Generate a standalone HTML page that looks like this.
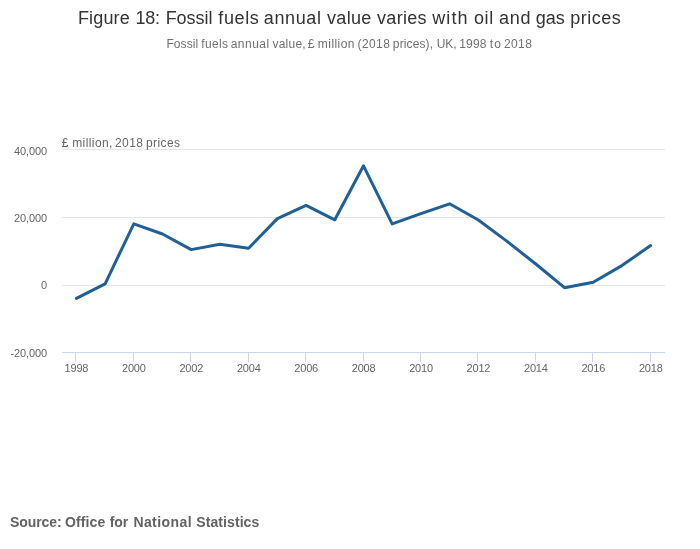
<!DOCTYPE html>
<html lang="en">
<head>
<meta charset="utf-8">
<title>Figure 18: Fossil fuels annual value varies with oil and gas prices</title>
<style>
  html, body { margin: 0; padding: 0; background: #ffffff; }
  body { width: 700px; height: 549px; position: relative; overflow: hidden;
         font-family: "Liberation Sans", sans-serif; }
  .t { position: absolute; white-space: nowrap; line-height: 1; }
  .ln { position: absolute; left: 0; width: 700px; height: 1em; line-height: 1; white-space: nowrap; }
  .ln span { position: absolute; top: 0; }
  .title { font-size: 18px; color: #333333; }
  .subtitle { font-size: 12px; color: #707070; }
  .ylabel { font-size: 12px; color: #666666; }
  .source { font-size: 14px; font-weight: bold; color: #636363; }
  .yl { right: 652.9px; font-size: 11px; color: #666666; text-align: right; letter-spacing: -0.1px; }
  .xl { width: 60px; margin-left: -30px; text-align: center; top: 363px; font-size: 11px; color: #666666; letter-spacing: -0.2px; }
  svg { position: absolute; left: 0; top: 0; }
</style>
</head>
<body>
<svg width="700" height="549" viewBox="0 0 700 549">
  <g stroke="#e6e6e6" stroke-width="1" fill="none">
    <path d="M62 149.5H665"/>
    <path d="M62 217.5H665"/>
    <path d="M62 285.5H665"/>
  </g>
  <g stroke="#ccd6eb" stroke-width="1" fill="none">
    <path d="M62 352.5H665"/>
    <path d="M75.5 352.5V362M133.5 352.5V362M190.5 352.5V362M248.5 352.5V362M305.5 352.5V362M363.5 352.5V362M420.5 352.5V362M477.5 352.5V362M535.5 352.5V362M592.5 352.5V362M650.5 352.5V362"/>
  </g>
  <path fill="none" stroke="#206095" stroke-width="3" stroke-linejoin="round" stroke-linecap="round"
    d="M76.4 298.3L105.1 283.8L133.8 223.8L162.5 234.0L191.2 249.6L219.9 244.2L248.6 248.2L277.4 218.6L306.1 205.4L334.8 219.8L363.5 165.8L392.2 223.9L420.9 213.6L449.6 203.8L478.4 220.0L507.1 241.4L535.8 264.0L564.5 287.7L593.2 282.3L621.9 265.6L650.6 245.6"/>
</svg>
<div class="ln title" id="title" style="top:9px"><span style="left:77.97px;letter-spacing:0.145px">Figure</span> <span style="left:135.54px;letter-spacing:-0.295px">18:</span> <span style="left:165.70px;letter-spacing:-0.063px">Fossil</span> <span style="left:218.26px;letter-spacing:0.631px">fuels</span> <span style="left:263.72px;letter-spacing:0.646px">annual</span> <span style="left:326.99px;letter-spacing:0.326px">value</span> <span style="left:376.99px;letter-spacing:0.321px">varies</span> <span style="left:432.17px;letter-spacing:1.119px">with</span> <span style="left:473.89px;letter-spacing:0.698px">oil</span> <span style="left:499.00px;letter-spacing:0.781px">and</span> <span style="left:535.75px;letter-spacing:0.012px">gas</span> <span style="left:570.37px;letter-spacing:0.484px">prices</span></div>
<div class="ln subtitle" id="subtitle" style="top:38px"><span style="left:166.43px;letter-spacing:0.078px">Fossil</span> <span style="left:201.28px;letter-spacing:0.336px">fuels</span> <span style="left:230.74px;letter-spacing:0.463px">annual</span> <span style="left:272.38px;letter-spacing:0.262px">value,</span> <span style="left:307.79px;letter-spacing:0.000px">£</span> <span style="left:317.84px;letter-spacing:0.445px">million</span> <span style="left:357.58px;letter-spacing:0.397px">(2018</span> <span style="left:392.86px;letter-spacing:0.110px">prices),</span> <span style="left:436.76px;letter-spacing:-0.060px">UK,</span> <span style="left:459.18px;letter-spacing:0.187px">1998</span> <span style="left:489.82px;letter-spacing:1.130px">to</span> <span style="left:504.00px;letter-spacing:0.373px">2018</span></div>
<div class="ln ylabel" id="ylabel" style="top:137px"><span style="left:61.66px;letter-spacing:0.000px">£</span> <span style="left:72.22px;letter-spacing:0.408px">million,</span> <span style="left:115.05px;letter-spacing:0.371px">2018</span> <span style="left:146.00px;letter-spacing:0.402px">prices</span></div>
<div class="t yl" style="top:146px">40,000</div>
<div class="t yl" style="top:213px">20,000</div>
<div class="t yl" style="top:280px">0</div>
<div class="t yl" style="top:348px">-20,000</div>
<div class="t xl" style="left:76.46px">1998</div>
<div class="t xl" style="left:133.88px">2000</div>
<div class="t xl" style="left:191.31px">2002</div>
<div class="t xl" style="left:248.74px">2004</div>
<div class="t xl" style="left:306.17px">2006</div>
<div class="t xl" style="left:363.6px">2008</div>
<div class="t xl" style="left:421.02px">2010</div>
<div class="t xl" style="left:478.45px">2012</div>
<div class="t xl" style="left:535.88px">2014</div>
<div class="t xl" style="left:593.31px">2016</div>
<div class="t xl" style="left:650.74px">2018</div>
<div class="ln source" id="source" style="top:515px"><span style="left:9.89px;letter-spacing:-0.063px">Source:</span> <span style="left:65.03px;letter-spacing:0.097px">Office</span> <span style="left:109.69px;letter-spacing:-0.123px">for</span> <span style="left:133.38px;letter-spacing:0.424px">National</span> <span style="left:196.26px;letter-spacing:0.087px">Statistics</span></div>
</body>
</html>
